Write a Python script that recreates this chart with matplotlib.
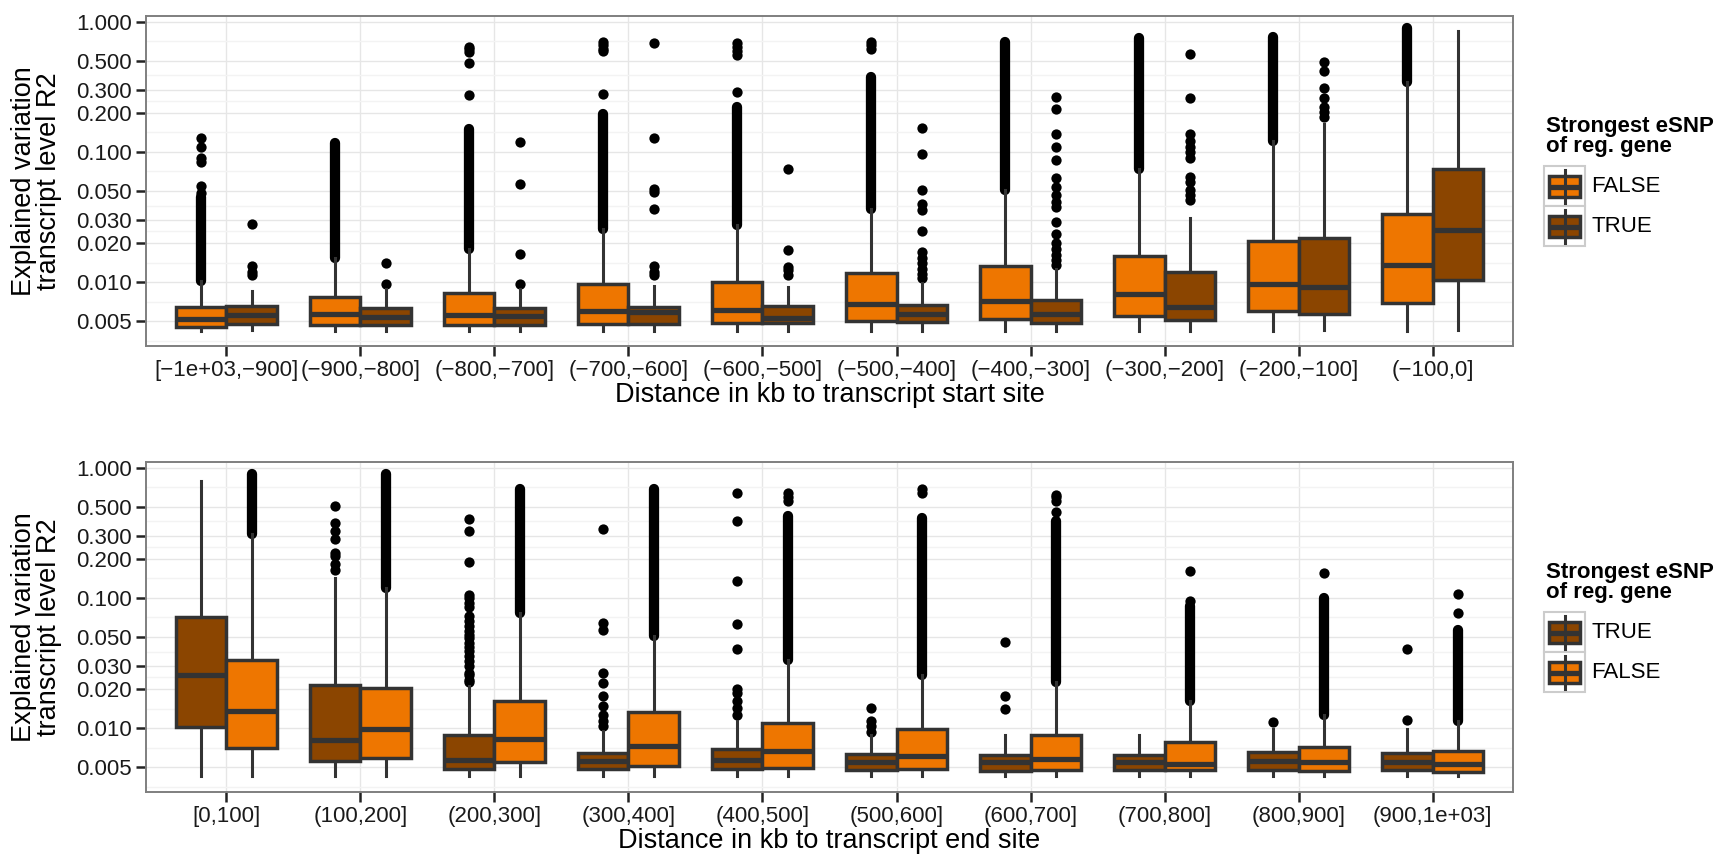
import matplotlib
matplotlib.use("Agg")
import matplotlib.pyplot as plt
from matplotlib.patches import Rectangle
from matplotlib.ticker import FixedLocator, NullFormatter
import numpy as np

plt.rcParams['font.family'] = ['Liberation Sans', 'DejaVu Sans']

ORANGE = '#EE7600'   # FALSE
BROWN = '#8B4500'    # TRUE
LINE = '#333333'

start_labels = ['[\u22121e+03,\u2212900]', '(\u2212900,\u2212800]', '(\u2212800,\u2212700]',
                '(\u2212700,\u2212600]', '(\u2212600,\u2212500]', '(\u2212500,\u2212400]',
                '(\u2212400,\u2212300]', '(\u2212300,\u2212200]', '(\u2212200,\u2212100]',
                '(\u2212100,0]']
end_labels = ['[0,100]', '(100,200]', '(200,300]', '(300,400]', '(400,500]',
              '(500,600]', '(600,700]', '(700,800]', '(800,900]', '(900,1e+03]']

# box stats per category: (q1, median, q3, lower whisker, upper whisker)
# dense = range of outliers that merge into a solid column, out = separate outliers

# --- distance to transcript start site ---
start_false_box = [(0.00452, 0.00524, 0.00644, 0.00419, 0.0102),
                   (0.00466, 0.00573, 0.00770, 0.00419, 0.0152),
                   (0.00466, 0.00556, 0.00830, 0.00419, 0.0180),
                   (0.00480, 0.00600, 0.00962, 0.00420, 0.0254),
                   (0.00485, 0.00610, 0.01000, 0.00420, 0.0274),
                   (0.00503, 0.00684, 0.01180, 0.00420, 0.0367),
                   (0.00518, 0.00720, 0.01330, 0.00420, 0.0510),
                   (0.00549, 0.00817, 0.01590, 0.00420, 0.0742),
                   (0.00596, 0.00970, 0.02070, 0.00420, 0.1220),
                   (0.00696, 0.01350, 0.03360, 0.00420, 0.3460)]
start_false_dense = [(0.0102, 0.045), (0.0152, 0.116), (0.018, 0.15), (0.0254, 0.197),
                     (0.0274, 0.222), (0.0367, 0.378), (0.051, 0.70), (0.0742, 0.744),
                     (0.122, 0.767), (0.346, 0.889)]
start_false_out = [[0.048, 0.055, 0.083, 0.089, 0.109, 0.127],
                   [],
                   [0.275, 0.483, 0.585, 0.62, 0.641],
                   [0.276, 0.59, 0.62, 0.66, 0.70],
                   [0.29, 0.554, 0.60, 0.64, 0.68],
                   [0.62, 0.66, 0.70],
                   [], [], [], []]

start_true_box = [(0.00474, 0.00556, 0.00655, 0.00426, 0.00855),
                  (0.00466, 0.00540, 0.00633, 0.00419, 0.00892),
                  (0.00466, 0.00550, 0.00633, 0.00419, 0.00892),
                  (0.00480, 0.00590, 0.00644, 0.00420, 0.00940),
                  (0.00485, 0.00530, 0.00655, 0.00420, 0.00910),
                  (0.00494, 0.00565, 0.00665, 0.00420, 0.00983),
                  (0.00489, 0.00573, 0.00730, 0.00420, 0.01250),
                  (0.00515, 0.00640, 0.01200, 0.00420, 0.03120),
                  (0.00573, 0.00910, 0.02200, 0.00430, 0.16500),
                  (0.01030, 0.02500, 0.07420, 0.00430, 0.84000)]
start_true_dense = [None] * 10
start_true_out = [[0.0113, 0.0120, 0.0133, 0.0278],
                  [0.00962, 0.0140],
                  [0.0097, 0.0164, 0.057, 0.118],
                  [0.0113, 0.012, 0.0133, 0.0367, 0.0494, 0.052, 0.128, 0.68],
                  [0.0113, 0.0124, 0.0131, 0.0176, 0.0742],
                  [0.0107, 0.0116, 0.0127, 0.0139, 0.0152, 0.0171, 0.0247, 0.036,
                   0.0401, 0.0514, 0.097, 0.153],
                  [0.0135, 0.0147, 0.0161, 0.0181, 0.0199, 0.0236, 0.029, 0.0378,
                   0.0412, 0.0465, 0.0538, 0.0625, 0.0866, 0.109, 0.137, 0.212, 0.264],
                  [0.0424, 0.0465, 0.0508, 0.0587, 0.064, 0.089, 0.1, 0.109, 0.122,
                   0.138, 0.258, 0.56],
                  [0.185, 0.202, 0.22, 0.258, 0.31, 0.42, 0.49],
                  []]

# --- distance to transcript end site ---
end_true_box = [(0.01020, 0.02580, 0.07110, 0.00426, 0.79000),
                (0.00555, 0.00806, 0.02130, 0.00426, 0.14300),
                (0.00486, 0.00566, 0.00890, 0.00426, 0.02100),
                (0.00486, 0.00560, 0.00644, 0.00426, 0.00945),
                (0.00486, 0.00573, 0.00690, 0.00426, 0.01130),
                (0.00480, 0.00550, 0.00637, 0.00426, 0.00890),
                (0.00472, 0.00546, 0.00626, 0.00426, 0.00890),
                (0.00480, 0.00546, 0.00626, 0.00426, 0.00890),
                (0.00480, 0.00560, 0.00656, 0.00426, 0.00986),
                (0.00480, 0.00550, 0.00644, 0.00426, 0.00986)]
end_true_dense = [None] * 10
end_true_out = [[],
                [0.165, 0.181, 0.209, 0.222, 0.281, 0.326, 0.378, 0.507],
                [0.0225, 0.0236, 0.0255, 0.0266, 0.030, 0.0326, 0.036, 0.039, 0.042,
                 0.045, 0.049, 0.0523, 0.056, 0.061, 0.066, 0.072, 0.085, 0.092,
                 0.1, 0.106, 0.19, 0.326, 0.40],
                [0.0103, 0.0113, 0.0127, 0.0147, 0.0176, 0.0222, 0.0266, 0.057,
                 0.064, 0.335],
                [0.0127, 0.0143, 0.0161, 0.0186, 0.02, 0.0406, 0.063, 0.135, 0.39, 0.64],
                [0.0094, 0.0103, 0.0113, 0.0143],
                [0.0139, 0.0176, 0.0457],
                [],
                [0.0112],
                [0.0116, 0.0406]]

end_false_box = [(0.00704, 0.01350, 0.03320, 0.00426, 0.3070),
                 (0.00590, 0.00986, 0.02040, 0.00426, 0.1190),
                 (0.00546, 0.00826, 0.01610, 0.00426, 0.0768),
                 (0.00515, 0.00725, 0.01320, 0.00426, 0.0508),
                 (0.00494, 0.00664, 0.01100, 0.00426, 0.0332),
                 (0.00486, 0.00610, 0.00990, 0.00426, 0.0258),
                 (0.00480, 0.00580, 0.00890, 0.00426, 0.0225),
                 (0.00480, 0.00530, 0.00778, 0.00426, 0.0161),
                 (0.00466, 0.00546, 0.00717, 0.00426, 0.0127),
                 (0.00458, 0.00534, 0.00664, 0.00426, 0.0113)]
end_false_dense = [(0.307, 0.888), (0.119, 0.888), (0.0768, 0.68), (0.0508, 0.68),
                   (0.0332, 0.425), (0.0258, 0.41), (0.0225, 0.39), (0.0161, 0.0864),
                   (0.0127, 0.10), (0.0113, 0.057)]
end_false_out = [[], [], [], [],
                 [0.55, 0.60, 0.64],
                 [0.64, 0.68],
                 [0.46, 0.55, 0.59, 0.62],
                 [0.095, 0.16],
                 [0.156],
                 [0.076, 0.108]]

y_breaks = [0.005, 0.01, 0.02, 0.03, 0.05, 0.1, 0.2, 0.3, 0.5, 1.0]

DOT = 7.4  # outlier diameter in points


def draw_group(ax, pos, box, dense, out, color):
    stats = [dict(q1=b[0], med=b[1], q3=b[2], whislo=b[3], whishi=b[4], fliers=o)
             for b, o in zip(box, out)]
    ax.bxp(stats, positions=pos, widths=0.375, patch_artist=True, showcaps=False,
           boxprops=dict(facecolor=color, edgecolor=LINE, linewidth=2.5, zorder=4),
           medianprops=dict(color=LINE, linewidth=3.8, zorder=5, solid_capstyle='butt'),
           whiskerprops=dict(color=LINE, linewidth=2.2, zorder=3),
           flierprops=dict(marker='o', markerfacecolor='black', markeredgecolor='black',
                           markersize=DOT, markeredgewidth=0, zorder=2))
    for x, d in zip(pos, dense):
        if d:
            ax.plot([x, x], d, color='black', lw=DOT, solid_capstyle='round', zorder=2)


def style_axes(ax, labels, xlabel):
    ax.set_yscale('log')
    ax.set_ylim(0.00325, 1.11)
    ax.set_xlim(0.4, len(labels) + 0.6)
    ax.set_xticks(np.arange(1, len(labels) + 1))
    ax.set_xticklabels(labels)
    ax.set_yticks(y_breaks)
    ax.set_yticklabels(['%.3f' % v for v in y_breaks])
    lb = np.log10(y_breaks)
    minor = list(10 ** ((lb[:-1] + lb[1:]) / 2)) + [10 ** (lb[0] - (lb[1] - lb[0]) / 2)]
    ax.yaxis.set_minor_locator(FixedLocator(minor))
    ax.yaxis.set_minor_formatter(NullFormatter())
    ax.tick_params(which='minor', length=0)
    ax.tick_params(which='major', length=7, width=1.8, color='#222222',
                   labelsize=16, labelcolor='#1A1A1A', pad=3)
    ax.grid(which='major', color='#E6E6E6', lw=1.0)
    ax.grid(which='minor', axis='y', color='#F3F3F3', lw=1.0)
    ax.set_axisbelow(True)
    for s in ax.spines.values():
        s.set_color('#7F7F7F')
        s.set_linewidth(1.4)
    ax.set_xlabel(xlabel, fontsize=19.5, color='#000000', labelpad=1)


W, H = 1718, 859
fig = plt.figure(figsize=(W / 100, H / 100), dpi=100)

left, right = 146, 1513
panels = [(15.7, 345.7), (461.7, 791.7)]

ax1 = fig.add_axes([left / W, 1 - panels[0][1] / H, (right - left) / W,
                    (panels[0][1] - panels[0][0]) / H])
ax2 = fig.add_axes([left / W, 1 - panels[1][1] / H, (right - left) / W,
                    (panels[1][1] - panels[1][0]) / H])

pos = np.arange(1, 11)
draw_group(ax1, pos - 0.1875, start_false_box, start_false_dense, start_false_out, ORANGE)
draw_group(ax1, pos + 0.1875, start_true_box, start_true_dense, start_true_out, BROWN)
draw_group(ax2, pos - 0.1875, end_true_box, end_true_dense, end_true_out, BROWN)
draw_group(ax2, pos + 0.1875, end_false_box, end_false_dense, end_false_out, ORANGE)

style_axes(ax1, start_labels, 'Distance in kb to transcript start site')
style_axes(ax2, end_labels, 'Distance in kb to transcript end site')

for top, bot in panels:
    fig.text(37 / W, 1 - (top + bot) / 2 / H, 'Explained variation\ntranscript level R2',
             rotation=90, ha='center', va='center', fontsize=19.5, linespacing=0.95)

# legends, drawn in pixel coordinates
ov = fig.add_axes([0, 0, 1, 1])
ov.set_xlim(0, W)
ov.set_ylim(H, 0)
ov.axis('off')


def draw_key(x, y, color):
    ov.add_patch(Rectangle((x, y), 41, 40, facecolor='white', edgecolor='#CCCCCC', lw=1.5))
    cx = x + 20.5
    ov.plot([cx, cx], [y + 3.5, y + 37], color=LINE, lw=2.2)
    ov.add_patch(Rectangle((x + 5, y + 10), 31, 21, facecolor=color, edgecolor=LINE, lw=2.5))
    ov.plot([x + 5, x + 36], [y + 20.5, y + 20.5], color=LINE, lw=3.8, solid_capstyle='butt')


legend_items = [[('FALSE', ORANGE), ('TRUE', BROWN)],
                [('TRUE', BROWN), ('FALSE', ORANGE)]]
for k, (top, bot) in enumerate(panels):
    dy = top - panels[0][0]
    ov.text(1546, 116 + dy, 'Strongest eSNP\nof reg. gene', ha='left', va='top',
            fontsize=16, fontweight='bold', linespacing=0.92)
    for j, (lab, col) in enumerate(legend_items[k]):
        ky = 166 + dy + 40 * j
        draw_key(1544, ky, col)
        ov.text(1591, ky + 21, lab, ha='left', va='center', fontsize=16)

fig.savefig('out.png', dpi=100)
